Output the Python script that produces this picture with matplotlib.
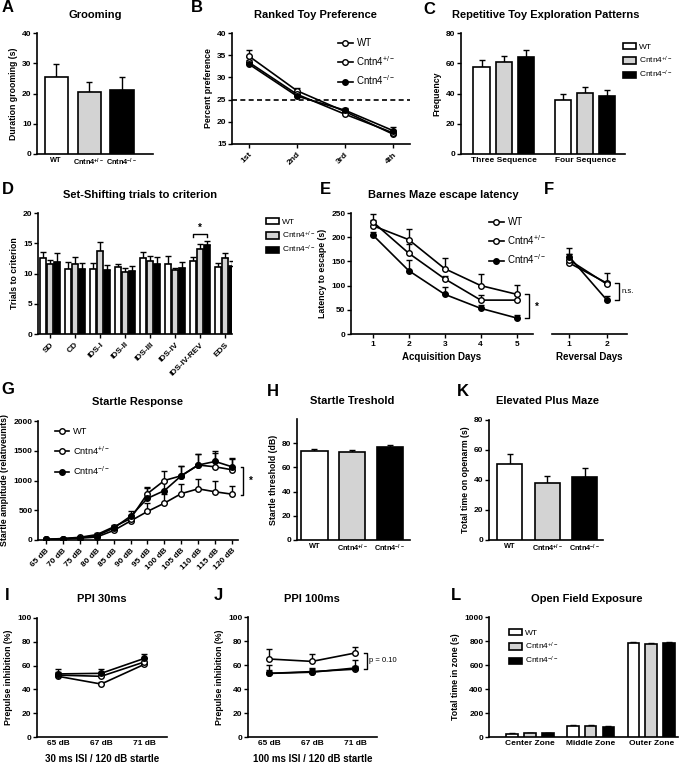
import matplotlib
matplotlib.use("Agg")
import matplotlib.pyplot as plt
from matplotlib.lines import Line2D
from matplotlib.patches import Patch
import numpy as np

plt.rcParams['font.family'] = ['Liberation Sans', 'DejaVu Sans']
plt.rcParams['font.weight'] = 'bold'
plt.rcParams['mathtext.default'] = 'regular'
plt.rcParams['axes.linewidth'] = 1.2
plt.rcParams['xtick.major.width'] = 1.0
plt.rcParams['ytick.major.width'] = 1.0
plt.rcParams['xtick.major.size'] = 3
plt.rcParams['ytick.major.size'] = 3
plt.rcParams['xtick.major.pad'] = 2
plt.rcParams['ytick.major.pad'] = 1
plt.rcParams['xtick.labelsize'] = 6
plt.rcParams['ytick.labelsize'] = 6
plt.rcParams['axes.labelsize'] = 6.3
plt.rcParams['axes.labelweight'] = 'bold'

W, H = 685, 766
geno = ["WT", "Cntn4$^{+/-}$", "Cntn4$^{-/-}$"]
bar_colors = ["white", "#d3d3d3", "black"]

# A - grooming
groom = [25.4, 20.6, 21.3]
groom_err = [4.4, 3.3, 4.0]

# B - ranked toy preference
rank_labels = ["1st", "2nd", "3rd", "4th"]
rank_wt = [34.8, 27.0, 22.3, 17.2]
rank_het = [33.4, 26.2, 21.7, 17.5]
rank_ko = [33.0, 25.8, 22.6, 18.0]
rank_wt_err = [1.4, 0.6, 0.6, 0.6]
rank_het_err = [1.2, 0.6, 0.5, 0.6]
rank_ko_err = [0.9, 0.5, 0.6, 0.9]

# C - repetitive toy exploration
seq_labels = ["Three Sequence", "Four Sequence"]
seq_wt = [57.5, 35.8]
seq_het = [60.8, 40.5]
seq_ko = [64.2, 38.5]
seq_wt_err = [4.5, 4.0]
seq_het_err = [4.0, 4.0]
seq_ko_err = [4.7, 4.0]

# D - set shifting
ss_labels = ["SD", "CD", "IDS-I", "IDS-II", "IDS-III", "IDS-IV", "IDS-IV-REV", "EDS"]
ss_wt = [12.5, 10.7, 10.8, 11.0, 12.5, 11.6, 12.0, 11.1]
ss_het = [11.5, 11.6, 13.8, 10.3, 12.0, 10.5, 14.1, 12.6]
ss_ko = [11.9, 10.8, 10.5, 10.4, 11.6, 10.9, 14.7, 11.3]
ss_wt_err = [1.1, 1.2, 0.9, 0.5, 1.1, 1.3, 0.7, 0.6]
ss_het_err = [0.8, 1.2, 1.4, 0.6, 0.9, 0.4, 0.8, 0.8]
ss_ko_err = [1.5, 1.0, 0.9, 0.9, 1.1, 1.0, 0.7, 0.7]

# E - barnes maze acquisition
acq_days = [1, 2, 3, 4, 5]
acq_wt = [224, 195, 135, 100, 82]
acq_het = [232, 167, 114, 70, 70]
acq_ko = [205, 131, 82, 53, 33]
acq_wt_err = [12, 22, 22, 24, 19]
acq_het_err = [15, 18, 6, 10, 10]
acq_ko_err = [6, 21, 15, 6, 6]

# F - reversal
rev_days = [1, 2]
rev_wt = [147, 105]
rev_het = [153, 103]
rev_ko = [160, 70]
rev_wt_err = [30, 22]
rev_het_err = [12, 5]
rev_ko_err = [6, 9]

# G - startle response
db_labels = ["65 dB", "70 dB", "75 dB", "80 dB", "85 dB", "90 dB", "95 dB",
             "100 dB", "105 dB", "110 dB", "115 dB", "120 dB"]
st_wt = [10, 15, 30, 50, 160, 320, 480, 620, 780, 860, 810, 770]
st_het = [10, 25, 45, 90, 220, 360, 780, 1000, 1080, 1260, 1230, 1180]
st_ko = [10, 20, 40, 70, 200, 400, 700, 830, 1080, 1260, 1320, 1230]
st_wt_err = [5, 5, 10, 15, 30, 50, 140, 160, 160, 170, 180, 140]
st_het_err = [5, 5, 10, 20, 30, 60, 110, 160, 170, 190, 230, 180]
st_ko_err = [5, 5, 10, 20, 30, 90, 170, 170, 160, 190, 170, 150]

# H - startle threshold
thr = [73.5, 73.0, 77.0]
thr_err = [2.0, 1.5, 1.8]

# K - elevated plus maze
epm = [51.0, 38.0, 42.0]
epm_err = [6.5, 5.0, 6.0]

# I / J - PPI
ppi_labels = ["65 dB", "67 dB", "71 dB"]
ppi30_wt = [51, 44.5, 61]
ppi30_het = [52, 51, 63]
ppi30_ko = [53, 53.5, 66]
ppi30_wt_err = [2, 2, 2]
ppi30_het_err = [3, 4, 3]
ppi30_ko_err = [4, 4, 4]
ppi100_wt = [65, 63, 70]
ppi100_het = [53, 54.5, 56.5]
ppi100_ko = [53, 54, 57.5]
ppi100_wt_err = [8, 6, 5]
ppi100_het_err = [7, 3, 3]
ppi100_ko_err = [3, 3, 7]

# L - open field
zone_labels = ["Center Zone", "Middle Zone", "Outer Zone"]
of_wt = [28, 90, 780]
of_het = [32, 93, 773]
of_ko = [30, 85, 783]
of_wt_err = [3, 6, 10]
of_het_err = [3, 6, 10]
of_ko_err = [3, 6, 8]


def box(x0, y0, x1, y1):
    return [x0 / W, 1 - y1 / H, (x1 - x0) / W, (y1 - y0) / H]


def style(ax):
    ax.spines['top'].set_visible(False)
    ax.spines['right'].set_visible(False)
    ax.tick_params(direction='out')


def ftext(x, y, s, **kw):
    fig.text(x / W, 1 - y / H, s, ha='center', va='center', **kw)


def bars(ax, pos, vals, errs, color, width):
    ax.bar(pos, vals, width, color=color, edgecolor='black', linewidth=1.2, zorder=3)
    ax.errorbar(pos, vals, yerr=[np.zeros(len(vals)), errs], fmt='none',
                ecolor='black', elinewidth=1.0, capsize=2, capthick=1.0, zorder=2)


def geno_ticks(ax):
    ax.set_xticks([0, 1, 2])
    ax.set_xticklabels(geno, fontsize=5.3)
    ax.tick_params(axis='x', length=0)


def lines(ax, x, series):
    for vals, errs, mfc in series:
        ax.errorbar(x, vals, yerr=[np.zeros(len(vals)), errs], color='black',
                    lw=1.2, marker='o', ms=4, mfc=mfc, mec='black', mew=1.0,
                    capsize=2, capthick=1.0, elinewidth=1.0)


def line_legend(x, y, spacing=0.6, size=7):
    hs = [Line2D([], [], color='black', lw=1.2, marker='o', ms=4, mfc=c, mec='black')
          for c in ['white', 'white', 'black']]
    fig.legend(hs, geno, loc='upper left', bbox_to_anchor=(x / W, 1 - y / H),
               frameon=False, prop={'size': size, 'weight': 'normal'},
               handlelength=1.5, handletextpad=0.4, labelspacing=spacing,
               borderpad=0, borderaxespad=0)


def bar_legend(x, y, spacing=0.4):
    hs = [Patch(facecolor=c, edgecolor='black', linewidth=1.2) for c in bar_colors]
    fig.legend(hs, geno, loc='upper left', bbox_to_anchor=(x / W, 1 - y / H),
               frameon=False, prop={'size': 6, 'weight': 'normal'},
               handlelength=1.5, handleheight=0.8, handletextpad=0.4,
               labelspacing=spacing, borderpad=0, borderaxespad=0)


fig = plt.figure(figsize=(6.85, 7.66), dpi=100)

# ---- A
ax = fig.add_axes(box(37, 33, 153, 154))
style(ax)
bars(ax, [0, 1, 2], groom, groom_err, bar_colors, 0.7)
ax.set_xlim(-0.58, 2.94)
ax.set_ylim(0, 40)
ax.set_yticks([0, 10, 20, 30, 40])
geno_ticks(ax)
ax.set_ylabel("Duration grooming (s)", labelpad=3)

# ---- B
ax = fig.add_axes(box(232, 33, 410, 144))
style(ax)
lines(ax, [0, 1, 2, 3], [(rank_wt, rank_wt_err, 'white'),
                         (rank_het, rank_het_err, 'white'),
                         (rank_ko, rank_ko_err, 'black')])
ax.axhline(25, color='black', ls=(0, (3, 2)), lw=1.2)
ax.set_xlim(-0.35, 3.35)
ax.set_ylim(15, 40)
ax.set_yticks([15, 20, 25, 30, 35, 40])
ax.set_xticks([0, 1, 2, 3])
ax.set_xticklabels(rank_labels, rotation=45, ha='right', rotation_mode='anchor')
ax.set_ylabel("Percent preference", labelpad=3)
line_legend(338, 38)

# ---- C
ax = fig.add_axes(box(461, 33, 625, 154))
style(ax)
for j, (v, e) in enumerate([(seq_wt, seq_wt_err), (seq_het, seq_het_err), (seq_ko, seq_ko_err)]):
    bars(ax, [j, 3.7 + j], v, e, bar_colors[j], 0.73)
ax.set_xlim(-0.93, 6.5)
ax.set_ylim(0, 80)
ax.set_yticks([0, 20, 40, 60, 80])
ax.set_xticks([1, 4.7])
ax.set_xticklabels(seq_labels)
ax.tick_params(axis='x', length=0)
ax.set_ylabel("Frequency", labelpad=3)
bar_legend(623, 43)

# ---- D
ax = fig.add_axes(box(38, 213, 232, 334))
style(ax)
xs = np.arange(len(ss_labels))
for j, (v, e) in enumerate([(ss_wt, ss_wt_err), (ss_het, ss_het_err), (ss_ko, ss_ko_err)]):
    bars(ax, xs + (j - 1) * 0.28, v, e, bar_colors[j], 0.24)
ax.set_xlim(-0.48, 7.28)
ax.set_ylim(0, 20)
ax.set_yticks([0, 5, 10, 15, 20])
ax.set_xticks(xs)
ax.set_xticklabels(ss_labels, rotation=45, ha='right', rotation_mode='anchor')
ax.set_ylabel("Trials to criterion", labelpad=3)
ax.plot([6 - 0.28, 6 - 0.28, 6 + 0.28, 6 + 0.28], [16.0, 16.6, 16.6, 16.0],
        color='black', lw=1.0, clip_on=False)
ax.text(6, 16.8, "*", ha='center', va='bottom', fontsize=7)
bar_legend(266, 218)

# ---- E
ax = fig.add_axes(box(351, 213, 533, 334))
style(ax)
lines(ax, acq_days, [(acq_wt, acq_wt_err, 'white'),
                     (acq_het, acq_het_err, 'white'),
                     (acq_ko, acq_ko_err, 'black')])
ax.set_xlim(0.4, 5.45)
ax.set_ylim(0, 250)
ax.set_yticks([0, 50, 100, 150, 200, 250])
ax.set_xticks(acq_days)
ax.set_xlabel("Acquisition Days", fontsize=7, labelpad=3)
ax.set_ylabel("Latency to escape (s)", labelpad=3)
ax.plot([5.22, 5.33, 5.33, 5.22], [33, 33, 82, 82], color='black', lw=1.0, clip_on=False)
ax.text(5.55, 57, "*", ha='center', va='center', fontsize=7)
line_legend(489, 217)

# ---- F
ax = fig.add_axes(box(552, 213, 627, 334))
style(ax)
ax.spines['left'].set_visible(False)
lines(ax, rev_days, [(rev_wt, rev_wt_err, 'white'),
                     (rev_het, rev_het_err, 'white'),
                     (rev_ko, rev_ko_err, 'black')])
ax.set_xlim(0.55, 2.53)
ax.set_ylim(0, 250)
ax.set_yticks([])
ax.set_xticks(rev_days)
ax.set_xlabel("Reversal Days", fontsize=7, labelpad=3)
ax.plot([2.22, 2.32, 2.32, 2.22], [70, 70, 105, 105], color='black', lw=1.0, clip_on=False)
ax.text(2.38, 88, "n.s.", ha='left', va='center', fontsize=5.5, fontweight='normal')

# ---- G
ax = fig.add_axes(box(38, 421, 238, 540))
style(ax)
xs = np.arange(len(db_labels))
lines(ax, xs, [(st_wt, st_wt_err, 'white'),
               (st_het, st_het_err, 'white'),
               (st_ko, st_ko_err, 'black')])
ax.set_xlim(-0.47, 11.35)
ax.set_ylim(0, 2000)
ax.set_yticks([0, 500, 1000, 1500, 2000])
ax.set_xticks(xs)
ax.set_xticklabels(db_labels, rotation=45, ha='right', rotation_mode='anchor')
ax.set_ylabel("Startle amplitude (relativeunits)", labelpad=3)
ax.plot([11.5, 11.65, 11.65, 11.5], [760, 760, 1230, 1230], color='black', lw=1.0, clip_on=False)
ax.text(12.1, 995, "*", ha='center', va='center', fontsize=7)
line_legend(55, 427, spacing=0.85, size=6.7)

# ---- H
ax = fig.add_axes(box(297, 419, 410, 540))
style(ax)
bars(ax, [0, 1, 2], thr, thr_err, bar_colors, 0.7)
ax.set_xlim(-0.46, 2.53)
ax.set_ylim(0, 100)
ax.set_yticks([0, 20, 40, 60, 80])
geno_ticks(ax)
ax.set_ylabel("Startle threshold (dB)", labelpad=3)

# ---- K
ax = fig.add_axes(box(489, 420, 603, 540))
style(ax)
bars(ax, [0, 1, 2], epm, epm_err, bar_colors, 0.67)
ax.set_xlim(-0.55, 2.49)
ax.set_ylim(0, 80)
ax.set_yticks([0, 20, 40, 60, 80])
geno_ticks(ax)
ax.set_ylabel("Total time on openarm (s)", labelpad=3)

# ---- I
ax = fig.add_axes(box(37, 618, 167, 737))
style(ax)
lines(ax, [0, 1, 2], [(ppi30_wt, ppi30_wt_err, 'white'),
                      (ppi30_het, ppi30_het_err, 'white'),
                      (ppi30_ko, ppi30_ko_err, 'black')])
ax.set_xlim(-0.49, 2.53)
ax.set_ylim(0, 100)
ax.set_yticks([0, 20, 40, 60, 80, 100])
ax.set_xticks([0, 1, 2])
ax.set_xticklabels(ppi_labels)
ax.tick_params(axis='x', length=0)
ax.set_xlabel("30 ms ISI / 120 dB startle", fontsize=7, labelpad=5)
ax.set_ylabel("Prepulse inhibition (%)", labelpad=3)

# ---- J
ax = fig.add_axes(box(248, 617, 377, 737))
style(ax)
lines(ax, [0, 1, 2], [(ppi100_wt, ppi100_wt_err, 'white'),
                      (ppi100_het, ppi100_het_err, 'white'),
                      (ppi100_ko, ppi100_ko_err, 'black')])
ax.set_xlim(-0.49, 2.51)
ax.set_ylim(0, 100)
ax.set_yticks([0, 20, 40, 60, 80, 100])
ax.set_xticks([0, 1, 2])
ax.set_xticklabels(ppi_labels)
ax.tick_params(axis='x', length=0)
ax.set_xlabel("100 ms ISI / 120 dB startle", fontsize=7, labelpad=5)
ax.set_ylabel("Prepulse inhibition (%)", labelpad=3)
ax.plot([2.2, 2.28, 2.28, 2.2], [57, 57, 70, 70], color='black', lw=1.0, clip_on=False)
ax.text(2.33, 64, "p = 0.10", ha='left', va='center', fontsize=5.5, fontweight='normal')

# ---- L
ax = fig.add_axes(box(489, 617, 678, 737))
style(ax)
for j, (v, e) in enumerate([(of_wt, of_wt_err), (of_het, of_het_err), (of_ko, of_ko_err)]):
    bars(ax, np.arange(3) * 3.4 + j, v, e, bar_colors[j], 0.65)
ax.set_xlim(-1.3, 9.3)
ax.set_ylim(0, 1000)
ax.set_yticks([0, 200, 400, 600, 800, 1000])
ax.set_xticks(np.arange(3) * 3.4 + 1)
ax.set_xticklabels(zone_labels)
ax.tick_params(axis='x', length=0)
ax.set_ylabel("Total time in zone (s)", labelpad=3)
bar_legend(509, 629)

# titles
ftext(95, 15, "Grooming", fontsize=8)
ftext(315, 15, "Ranked Toy Preference", fontsize=8)
ftext(546, 15, "Repetitive Toy Exploration Patterns", fontsize=8)
ftext(140, 195, "Set-Shifting trials to criterion", fontsize=8)
ftext(443, 195, "Barnes Maze escape latency", fontsize=8)
ftext(138, 402, "Startle Response", fontsize=8)
ftext(352, 401, "Startle Treshold", fontsize=8)
ftext(547, 401, "Elevated Plus Maze", fontsize=8)
ftext(102, 599, "PPI 30ms", fontsize=8)
ftext(312, 599, "PPI 100ms", fontsize=8)
ftext(587, 599, "Open Field Exposure", fontsize=8)

# panel letters
for letter, x, y in [("A", 8, 8), ("B", 197, 8), ("C", 429, 9), ("D", 8, 189),
                     ("E", 325, 189), ("F", 549, 189), ("G", 8, 390), ("H", 273, 391),
                     ("K", 463, 391), ("I", 7, 595), ("J", 218, 595), ("L", 456, 595)]:
    ftext(x, y, letter, fontsize=12)

fig.savefig("out.png", dpi=100)
